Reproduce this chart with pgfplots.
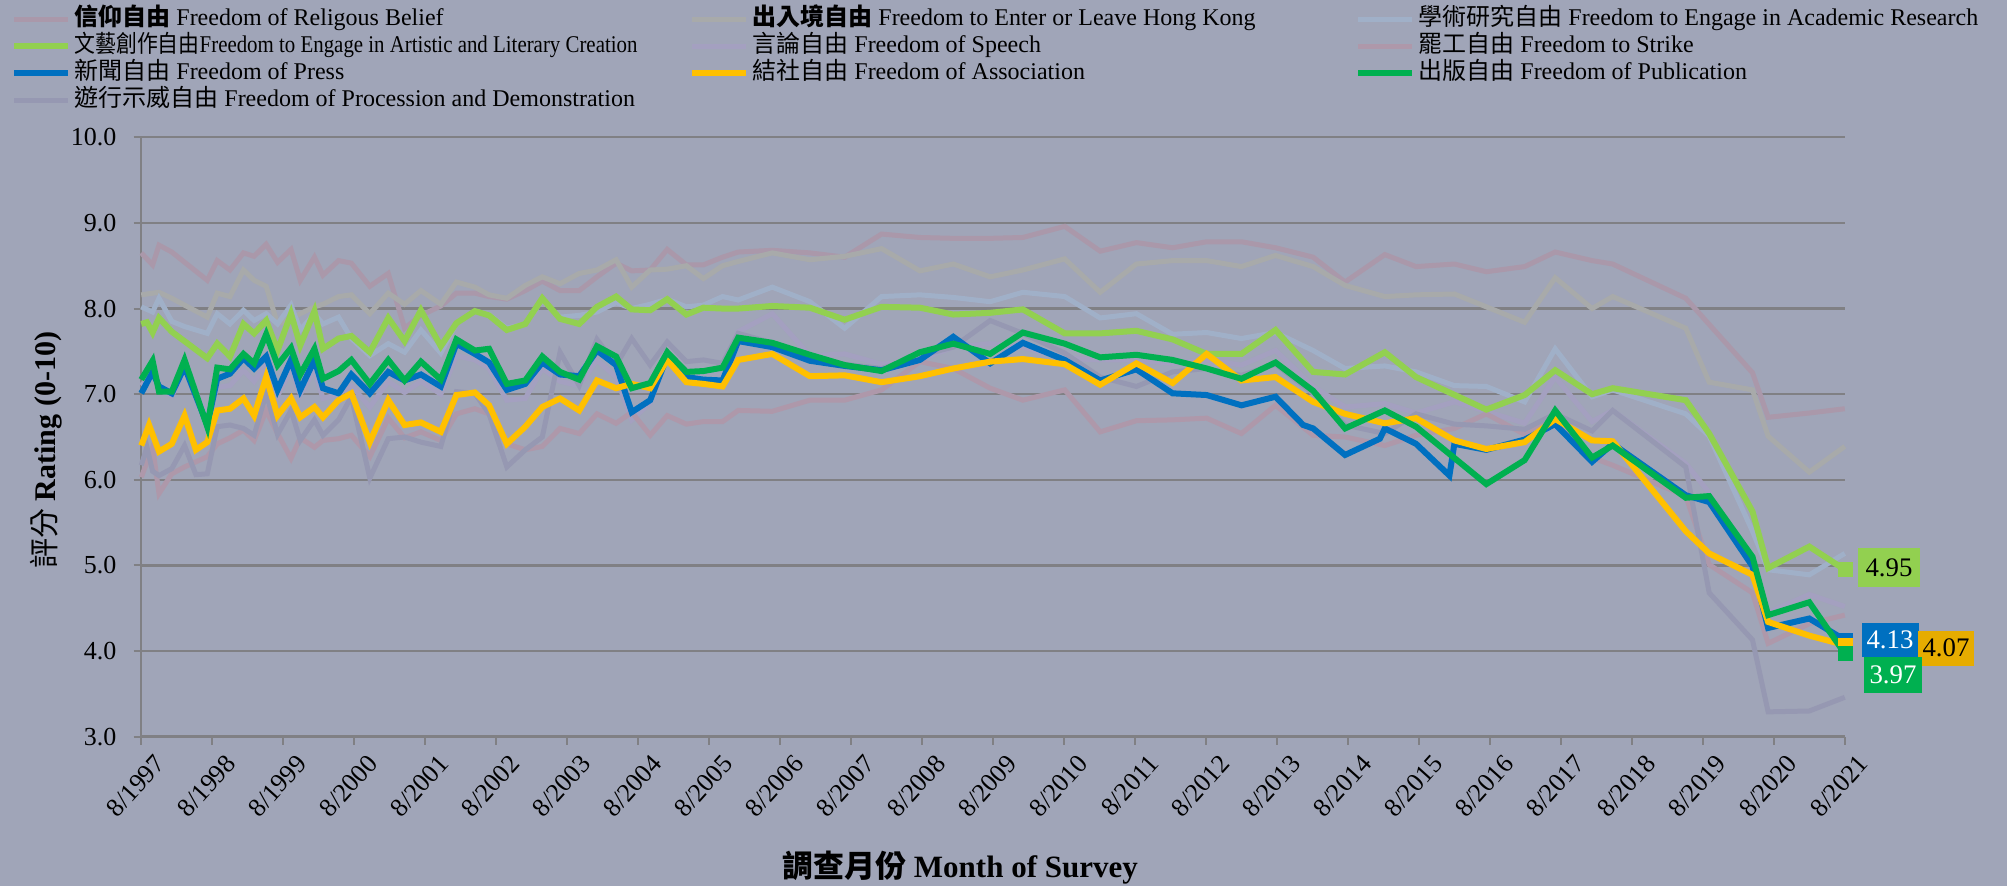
\documentclass[border=0pt]{standalone}
\usepackage{fontspec}
\setmainfont{Liberation Serif}
\newfontfamily\cjk{Noto Sans CJK TC}
\usepackage{pgfplots}
\pgfplotsset{compat=1.18}
\definecolor{bgc}{RGB}{160,165,184}
\definecolor{gridc}{RGB}{128,128,132}
\definecolor{creli}{RGB}{170,152,170}
\definecolor{center}{RGB}{168,170,170}
\definecolor{cacad}{RGB}{160,176,200}
\definecolor{cspeech}{RGB}{164,160,192}
\definecolor{cstrike}{RGB}{174,152,170}
\definecolor{cproc}{RGB}{150,152,178}
\definecolor{cart}{RGB}{146,208,80}
\definecolor{cpress}{RGB}{0,112,192}
\definecolor{cassoc}{RGB}{255,192,0}
\definecolor{cassocbox}{RGB}{230,172,0}
\definecolor{cpub}{RGB}{0,176,80}
\begin{document}
\begin{tikzpicture}[x=1pt,y=1pt]
\fill[bgc] (-70.75,-74.65) rectangle (932.75,368.35);
\begin{axis}[
  at={(0,0)}, anchor=south west,
  width=851.75pt, height=299.7pt, scale only axis,
  xmin=1997.5833, xmax=2021.5833, ymin=3, ymax=10,
  clip=false,
  axis x line*=bottom, axis y line*=left,
  axis line style={gridc, line width=1pt},
  ytick={3,4,5,6,7,8,9,10},
  ymajorgrids, grid style={gridc, line width=1.2pt},
  xtick={1997.5833,1998.5833,1999.5833,2000.5833,2001.5833,2002.5833,2003.5833,2004.5833,2005.5833,2006.5833,2007.5833,2008.5833,2009.5833,2010.5833,2011.5833,2012.5833,2013.5833,2014.5833,2015.5833,2016.5833,2017.5833,2018.5833,2019.5833,2020.5833,2021.5833},
  xticklabels={8/1997,8/1998,8/1999,8/2000,8/2001,8/2002,8/2003,8/2004,8/2005,8/2006,8/2007,8/2008,8/2009,8/2010,8/2011,8/2012,8/2013,8/2014,8/2015,8/2016,8/2017,8/2018,8/2019,8/2020,8/2021},
  tick style={gridc, line width=1pt},
  major tick length=4pt, tick align=outside,
  xticklabel style={rotate=48, anchor=north east, font=\fontsize{13}{13}\selectfont, inner sep=1pt, yshift=-6pt, xshift=2pt},
  yticklabel style={font=\fontsize{13}{13}\selectfont, xshift=-5pt},
  /pgf/number format/assume math mode=true,
  yticklabel={\pgfmathprintnumber[fixed,fixed zerofill,precision=1]{\tick}},
  xlabel={{\cjk\bfseries 調查月份} \textbf{Month of Survey}},
  xlabel style={font=\fontsize{15.5}{15.5}\selectfont, inner sep=0pt, at={(axis description cs:0.4805,-0.219)}, anchor=center},
  ylabel={{\cjk 評分} \textbf{Rating (0-10)}},
  ylabel style={font=\fontsize{15}{15}\selectfont, inner sep=0pt, at={(axis description cs:-0.0557,0.478)}, anchor=center},
  legend columns=3,
  legend style={at={(axis description cs:-0.0766,1.22)}, anchor=north west, draw=none, fill=none,
    font=\fontsize{12}{12}\selectfont, inner sep=0pt,
    nodes={inner sep=0pt, text height=10pt, text depth=3.5pt},
    /tikz/every odd column/.append style={column sep=1.5pt},
    /tikz/every even column/.append style={column sep=5.5pt}},
  legend cell align=left,
  legend image code/.code={\draw[#1] (0pt,0pt) -- (27pt,0pt);},
]
\addlegendimage{creli, line width=2.5pt}
\addlegendentry{\makebox[302pt][l]{{\cjk\bfseries 信仰自由} Freedom of Religous Belief}}
\addlegendimage{center, line width=2.5pt}
\addlegendentry{\makebox[296pt][l]{{\cjk\bfseries 出入境自由} Freedom to Enter or Leave Hong Kong}}
\addlegendimage{cacad, line width=2.5pt}
\addlegendentry{{\cjk 學術研究自由} Freedom to Engage in Academic Research}
\addlegendimage{cart, line width=3pt}
\addlegendentry{\makebox[302pt][l]{\scalebox{0.87}[1]{{\cjk 文藝創作自由}Freedom to Engage in Artistic and Literary Creation}}}
\addlegendimage{cspeech, line width=2.5pt}
\addlegendentry{\makebox[296pt][l]{{\cjk 言論自由} Freedom of Speech}}
\addlegendimage{cstrike, line width=2.5pt}
\addlegendentry{{\cjk 罷工自由} Freedom to Strike}
\addlegendimage{cpress, line width=3pt}
\addlegendentry{\makebox[302pt][l]{{\cjk 新聞自由} Freedom of Press}}
\addlegendimage{cassoc, line width=3pt}
\addlegendentry{\makebox[296pt][l]{{\cjk 結社自由} Freedom of Association}}
\addlegendimage{cpub, line width=3pt}
\addlegendentry{{\cjk 出版自由} Freedom of Publication}
\addlegendimage{cproc, line width=2.5pt}
\addlegendentry{\makebox[302pt][l]{{\cjk 遊行示威自由} Freedom of Procession and Demonstration}}

% Religious belief
\addplot[creli, line width=2.5pt, forget plot] coordinates {
(1997.58,8.65)(1997.74,8.51)(1997.83,8.74)(1998.01,8.66)(1998.51,8.33)(1998.65,8.56)(1998.83,8.45)(1999.02,8.65)(1999.17,8.61)(1999.34,8.75)(1999.50,8.54)(1999.69,8.69)(1999.82,8.33)(2000.02,8.60)(2000.14,8.39)(2000.36,8.56)(2000.54,8.53)(2000.80,8.26)(2001.06,8.41)(2001.29,7.77)(2001.52,7.92)(2001.80,8.03)(2002.02,8.18)(2002.28,8.18)(2002.48,8.14)(2002.73,8.11)(2002.99,8.21)(2003.23,8.32)(2003.48,8.21)(2003.75,8.21)(2004.00,8.37)(2004.27,8.53)(2004.49,8.44)(2004.75,8.45)(2004.99,8.69)(2005.26,8.51)(2005.50,8.51)(2005.77,8.60)(2005.99,8.66)(2006.47,8.68)(2007.00,8.65)(2007.49,8.60)(2008.01,8.87)(2008.55,8.83)(2009.02,8.82)(2009.54,8.82)(2010.00,8.83)(2010.59,8.96)(2011.09,8.67)(2011.60,8.77)(2012.11,8.71)(2012.59,8.78)(2013.08,8.78)(2013.56,8.71)(2014.09,8.60)(2014.54,8.31)(2015.10,8.63)(2015.54,8.49)(2016.08,8.52)(2016.53,8.43)(2017.07,8.49)(2017.50,8.66)(2018.02,8.56)(2018.31,8.52)(2019.34,8.12)(2020.28,7.25)(2020.50,6.73)(2021.08,6.78)(2021.58,6.83)};
% Enter or leave HK
\addplot[center, line width=2.5pt, forget plot] coordinates {
(1997.58,8.16)(1997.83,8.19)(1998.01,8.12)(1998.19,8.04)(1998.51,7.90)(1998.65,8.18)(1998.83,8.14)(1999.02,8.45)(1999.17,8.33)(1999.34,8.26)(1999.50,7.82)(1999.69,7.88)(1999.82,7.94)(2000.02,8.02)(2000.14,8.05)(2000.36,8.14)(2000.54,8.16)(2000.80,7.94)(2001.06,8.18)(2001.29,8.05)(2001.52,8.21)(2001.80,8.05)(2002.02,8.31)(2002.28,8.25)(2002.48,8.16)(2002.73,8.12)(2002.99,8.27)(2003.23,8.37)(2003.48,8.29)(2003.75,8.41)(2004.00,8.45)(2004.27,8.57)(2004.49,8.25)(2004.75,8.45)(2004.99,8.46)(2005.26,8.50)(2005.50,8.35)(2005.77,8.50)(2005.99,8.55)(2006.47,8.65)(2007.00,8.57)(2007.49,8.61)(2008.01,8.70)(2008.55,8.44)(2009.02,8.52)(2009.54,8.37)(2010.00,8.45)(2010.59,8.58)(2011.09,8.19)(2011.60,8.52)(2012.11,8.56)(2012.59,8.56)(2013.08,8.49)(2013.56,8.62)(2014.09,8.49)(2014.54,8.27)(2015.10,8.14)(2015.54,8.16)(2016.08,8.17)(2016.53,8.02)(2017.07,7.84)(2017.50,8.36)(2018.02,8.00)(2018.31,8.14)(2019.34,7.77)(2019.67,7.14)(2020.28,7.05)(2020.50,6.51)(2021.08,6.09)(2021.58,6.39)};
% Academic research
\addplot[cacad, line width=2.5pt, forget plot] coordinates {
(1997.58,8.02)(1997.74,7.96)(1997.83,8.12)(1998.01,7.85)(1998.19,7.79)(1998.51,7.71)(1998.65,7.94)(1998.83,7.82)(1999.02,7.98)(1999.17,7.86)(1999.34,7.94)(1999.50,7.82)(1999.69,8.04)(1999.82,7.75)(2000.02,7.94)(2000.14,7.82)(2000.36,7.90)(2000.54,7.65)(2000.80,7.45)(2001.06,7.59)(2001.29,7.49)(2001.52,7.75)(2001.80,7.48)(2002.02,7.83)(2002.28,7.97)(2002.48,7.93)(2002.73,7.77)(2002.99,7.82)(2003.23,8.10)(2003.48,7.90)(2003.75,7.92)(2004.00,7.96)(2004.27,8.07)(2004.49,8.00)(2004.75,8.05)(2004.99,8.11)(2005.26,8.02)(2005.50,8.04)(2005.77,8.14)(2005.99,8.10)(2006.47,8.25)(2007.00,8.08)(2007.49,7.77)(2008.01,8.14)(2008.55,8.16)(2009.02,8.13)(2009.54,8.08)(2010.00,8.19)(2010.59,8.14)(2011.09,7.89)(2011.60,7.94)(2012.11,7.70)(2012.59,7.72)(2013.08,7.65)(2013.56,7.72)(2014.09,7.51)(2014.54,7.30)(2015.10,7.33)(2015.54,7.26)(2016.08,7.10)(2016.53,7.09)(2017.07,6.91)(2017.50,7.53)(2018.02,6.97)(2018.31,7.05)(2019.34,6.77)(2019.67,6.51)(2020.28,5.40)(2020.50,4.95)(2021.08,4.89)(2021.58,5.14)};
% Speech
\addplot[cspeech, line width=2.5pt, forget plot] coordinates {
(1997.58,7.10)(1997.74,7.25)(1997.83,7.05)(1998.01,6.98)(1998.19,7.28)(1998.51,6.75)(1998.65,7.08)(1998.83,7.10)(1999.02,7.28)(1999.17,7.15)(1999.34,7.35)(1999.50,6.98)(1999.69,7.30)(1999.82,7.00)(2000.02,7.28)(2000.14,6.95)(2000.36,7.00)(2000.54,7.10)(2000.80,6.85)(2001.06,7.15)(2001.29,7.02)(2001.52,7.15)(2001.80,7.00)(2002.02,7.45)(2002.28,7.40)(2002.48,7.30)(2002.73,6.93)(2002.99,6.95)(2003.23,7.30)(2003.48,7.15)(2003.75,7.10)(2004.00,7.40)(2004.27,7.20)(2004.49,6.70)(2004.75,6.90)(2004.99,7.45)(2005.26,7.20)(2005.50,7.25)(2005.77,7.30)(2005.99,7.73)(2006.47,7.94)(2007.00,7.45)(2007.49,7.47)(2008.01,7.35)(2008.55,7.40)(2009.02,7.55)(2009.54,7.59)(2010.00,7.55)(2010.59,7.42)(2011.09,7.40)(2011.60,7.40)(2012.11,7.36)(2012.59,7.40)(2013.08,7.34)(2013.56,7.51)(2014.09,7.09)(2014.54,6.85)(2015.10,6.89)(2015.54,6.78)(2016.08,6.91)(2016.53,6.80)(2017.07,6.66)(2017.50,7.20)(2018.02,6.68)(2018.31,6.81)(2019.34,6.19)(2019.67,5.85)(2020.28,5.00)(2020.50,4.45)(2021.08,4.66)(2021.58,4.52)};
% Strike
\addplot[cstrike, line width=2.5pt, forget plot] coordinates {
(1997.58,6.03)(1997.74,6.38)(1997.83,5.84)(1998.01,6.07)(1998.19,6.15)(1998.51,6.27)(1998.65,6.42)(1998.83,6.49)(1999.02,6.58)(1999.17,6.46)(1999.34,6.81)(1999.50,6.54)(1999.69,6.25)(1999.82,6.49)(2000.02,6.38)(2000.14,6.46)(2000.36,6.48)(2000.54,6.52)(2000.80,6.27)(2001.06,6.72)(2001.29,6.49)(2001.52,6.56)(2001.80,6.46)(2002.02,6.77)(2002.28,6.83)(2002.48,6.77)(2002.73,6.42)(2002.99,6.35)(2003.23,6.39)(2003.48,6.60)(2003.75,6.54)(2004.00,6.77)(2004.27,6.66)(2004.49,6.79)(2004.75,6.52)(2004.99,6.75)(2005.26,6.65)(2005.50,6.68)(2005.77,6.68)(2005.99,6.81)(2006.47,6.80)(2007.00,6.93)(2007.49,6.93)(2008.01,7.05)(2008.55,7.38)(2009.02,7.30)(2009.54,7.07)(2010.00,6.93)(2010.59,7.05)(2011.09,6.56)(2011.60,6.69)(2012.11,6.70)(2012.59,6.72)(2013.08,6.54)(2013.56,6.87)(2014.09,6.52)(2014.54,6.50)(2015.10,6.40)(2015.54,6.52)(2016.08,6.60)(2016.53,6.77)(2017.07,6.53)(2017.50,6.70)(2018.02,6.26)(2018.31,6.17)(2019.34,5.81)(2019.67,5.01)(2020.28,4.68)(2020.50,4.09)(2021.08,4.32)(2021.58,4.42)};
% Procession
\addplot[cproc, line width=2.5pt, forget plot] coordinates {
(1997.58,6.17)(1997.66,6.38)(1997.74,6.10)(1997.83,6.05)(1998.01,6.13)(1998.19,6.40)(1998.35,6.06)(1998.51,6.07)(1998.65,6.62)(1998.83,6.64)(1999.02,6.60)(1999.17,6.52)(1999.34,7.01)(1999.50,6.53)(1999.69,6.81)(1999.82,6.46)(2000.02,6.70)(2000.14,6.52)(2000.36,6.70)(2000.54,6.97)(2000.80,6.02)(2001.06,6.48)(2001.29,6.50)(2001.52,6.44)(2001.80,6.39)(2002.02,7.03)(2002.28,7.01)(2002.48,6.77)(2002.73,6.15)(2002.99,6.35)(2003.23,6.50)(2003.48,7.49)(2003.75,7.10)(2004.00,7.64)(2004.27,7.34)(2004.49,7.65)(2004.75,7.34)(2004.99,7.61)(2005.26,7.38)(2005.50,7.40)(2005.77,7.36)(2005.99,7.71)(2006.47,7.60)(2007.00,7.40)(2007.49,7.35)(2008.01,7.30)(2008.55,7.45)(2009.02,7.55)(2009.54,7.86)(2010.00,7.71)(2010.59,7.48)(2011.09,7.20)(2011.60,7.09)(2012.11,7.26)(2012.59,7.30)(2013.08,7.22)(2013.56,7.35)(2014.09,7.01)(2014.54,6.64)(2015.10,6.54)(2015.54,6.77)(2016.08,6.65)(2016.53,6.63)(2017.07,6.59)(2017.50,6.77)(2018.02,6.57)(2018.31,6.81)(2019.34,6.15)(2019.67,4.68)(2020.28,4.13)(2020.50,3.29)(2021.08,3.30)(2021.58,3.46)};
% Artistic
\addplot[cart, line width=3pt, forget plot] coordinates {
(1997.58,7.82)(1997.66,7.84)(1997.74,7.72)(1997.83,7.89)(1998.01,7.73)(1998.51,7.42)(1998.65,7.59)(1998.83,7.44)(1999.02,7.82)(1999.17,7.71)(1999.34,7.86)(1999.50,7.51)(1999.69,7.94)(1999.82,7.57)(2000.02,7.97)(2000.14,7.53)(2000.36,7.65)(2000.54,7.68)(2000.80,7.49)(2001.06,7.89)(2001.29,7.62)(2001.52,7.98)(2001.80,7.56)(2002.02,7.83)(2002.28,7.97)(2002.48,7.92)(2002.73,7.75)(2002.99,7.82)(2003.23,8.12)(2003.48,7.88)(2003.75,7.82)(2004.00,8.02)(2004.27,8.14)(2004.49,7.99)(2004.75,7.98)(2004.99,8.11)(2005.26,7.93)(2005.50,8.01)(2005.77,8.00)(2005.99,8.00)(2006.47,8.03)(2007.00,8.01)(2007.49,7.87)(2008.01,8.02)(2008.55,8.01)(2009.02,7.93)(2009.54,7.95)(2010.00,7.99)(2010.59,7.71)(2011.09,7.71)(2011.60,7.74)(2012.11,7.64)(2012.59,7.47)(2013.08,7.47)(2013.56,7.75)(2014.09,7.26)(2014.54,7.23)(2015.10,7.49)(2015.54,7.20)(2016.53,6.82)(2017.07,6.99)(2017.50,7.28)(2018.02,7.00)(2018.31,7.07)(2019.34,6.93)(2019.67,6.54)(2020.28,5.63)(2020.50,4.97)(2021.08,5.22)(2021.58,4.95)};
% Press
\addplot[cpress, line width=3pt, forget plot] coordinates {
(1997.58,7.01)(1997.74,7.26)(1997.83,7.09)(1998.01,7.01)(1998.19,7.32)(1998.51,6.64)(1998.65,7.18)(1998.83,7.24)(1999.02,7.42)(1999.17,7.30)(1999.34,7.44)(1999.50,7.05)(1999.69,7.40)(1999.82,7.05)(2000.02,7.40)(2000.14,7.07)(2000.36,7.01)(2000.54,7.23)(2000.80,7.01)(2001.06,7.26)(2001.29,7.16)(2001.52,7.23)(2001.80,7.09)(2002.02,7.59)(2002.28,7.47)(2002.48,7.37)(2002.73,7.05)(2002.99,7.12)(2003.23,7.37)(2003.48,7.23)(2003.75,7.21)(2004.00,7.51)(2004.27,7.34)(2004.49,6.79)(2004.75,6.93)(2004.99,7.44)(2005.26,7.20)(2005.50,7.17)(2005.77,7.16)(2005.99,7.62)(2006.47,7.55)(2007.00,7.39)(2007.49,7.33)(2008.01,7.28)(2008.55,7.40)(2009.02,7.67)(2009.54,7.36)(2010.00,7.60)(2010.59,7.40)(2011.09,7.16)(2011.60,7.29)(2012.11,7.01)(2012.59,6.99)(2013.08,6.87)(2013.56,6.97)(2013.95,6.64)(2014.09,6.60)(2014.54,6.29)(2015.03,6.48)(2015.10,6.60)(2015.54,6.42)(2016.01,6.05)(2016.08,6.42)(2016.53,6.35)(2017.07,6.47)(2017.50,6.65)(2018.02,6.21)(2018.31,6.42)(2019.34,5.82)(2019.67,5.74)(2020.28,4.99)(2020.50,4.27)(2021.08,4.38)(2021.58,4.13)};
% Association
\addplot[cassoc, line width=3pt, forget plot] coordinates {
(1997.58,6.40)(1997.69,6.64)(1997.83,6.33)(1998.01,6.42)(1998.19,6.75)(1998.35,6.35)(1998.51,6.44)(1998.65,6.81)(1998.83,6.83)(1999.02,6.95)(1999.17,6.75)(1999.34,7.20)(1999.50,6.75)(1999.69,6.95)(1999.82,6.73)(2000.02,6.85)(2000.14,6.73)(2000.36,6.93)(2000.54,7.01)(2000.80,6.44)(2001.06,6.93)(2001.29,6.64)(2001.52,6.67)(2001.80,6.56)(2002.02,6.99)(2002.28,7.02)(2002.48,6.87)(2002.73,6.42)(2002.99,6.62)(2003.23,6.85)(2003.48,6.95)(2003.75,6.81)(2004.00,7.16)(2004.27,7.07)(2004.49,7.12)(2004.75,7.07)(2004.99,7.40)(2005.26,7.14)(2005.50,7.12)(2005.77,7.09)(2005.99,7.40)(2006.47,7.47)(2007.00,7.21)(2007.49,7.22)(2008.01,7.14)(2008.55,7.21)(2009.02,7.30)(2009.54,7.38)(2010.00,7.41)(2010.59,7.35)(2011.09,7.11)(2011.60,7.36)(2012.11,7.13)(2012.59,7.47)(2013.08,7.16)(2013.56,7.20)(2014.09,6.91)(2014.54,6.77)(2015.10,6.66)(2015.54,6.72)(2016.08,6.46)(2016.53,6.36)(2017.07,6.44)(2017.50,6.71)(2018.02,6.46)(2018.31,6.45)(2019.34,5.40)(2019.67,5.14)(2020.28,4.89)(2020.50,4.34)(2021.08,4.18)(2021.58,4.07)};
% Publication
\addplot[cpub, line width=3pt, forget plot] coordinates {
(1997.58,7.17)(1997.74,7.39)(1997.83,7.03)(1998.01,7.03)(1998.19,7.40)(1998.51,6.62)(1998.65,7.31)(1998.83,7.29)(1999.02,7.47)(1999.17,7.36)(1999.34,7.70)(1999.50,7.34)(1999.69,7.54)(1999.82,7.23)(2000.02,7.53)(2000.14,7.18)(2000.36,7.27)(2000.54,7.40)(2000.80,7.12)(2001.06,7.40)(2001.29,7.16)(2001.52,7.38)(2001.80,7.17)(2002.02,7.64)(2002.28,7.51)(2002.48,7.53)(2002.73,7.12)(2002.99,7.16)(2003.23,7.44)(2003.48,7.26)(2003.75,7.17)(2004.00,7.56)(2004.27,7.44)(2004.49,7.07)(2004.75,7.13)(2004.99,7.49)(2005.26,7.26)(2005.50,7.27)(2005.77,7.31)(2005.99,7.66)(2006.47,7.60)(2007.00,7.46)(2007.49,7.34)(2008.01,7.27)(2008.55,7.49)(2009.02,7.59)(2009.54,7.47)(2010.00,7.72)(2010.59,7.59)(2011.09,7.43)(2011.60,7.46)(2012.11,7.40)(2012.59,7.30)(2013.08,7.18)(2013.56,7.37)(2014.09,7.04)(2014.54,6.60)(2015.10,6.81)(2015.54,6.62)(2016.53,5.95)(2017.07,6.23)(2017.50,6.81)(2018.02,6.26)(2018.31,6.40)(2019.34,5.79)(2019.67,5.81)(2020.28,5.10)(2020.50,4.42)(2021.08,4.57)(2021.58,3.97)};
% end markers
\addplot[cart, only marks, mark=square*, mark size=3.5pt, forget plot] coordinates {(2021.5833,4.95)};
\addplot[cpress, only marks, mark=square*, mark size=3.5pt, forget plot] coordinates {(2021.5833,4.13)};
\addplot[cassoc, only marks, mark=square*, mark size=3.5pt, forget plot] coordinates {(2021.5833,4.07)};
\addplot[cpub, only marks, mark=square*, mark size=3.5pt, forget plot] coordinates {(2021.5833,3.97)};
\node[fill=cart, text=black, inner sep=0pt, minimum width=31pt, minimum height=19.5pt, font=\fontsize{13.4}{13.4}\selectfont] at (axis cs:2021.5833,4.95) [xshift=22pt, yshift=1pt] {4.95};
\node[fill=cpress, text=white, inner sep=0pt, minimum width=28.5pt, minimum height=17pt, font=\fontsize{13.4}{13.4}\selectfont] at (axis cs:2021.5833,4.13) [xshift=22.5pt] {4.13};
\node[fill=cassocbox, text=black, inner sep=0pt, minimum width=28pt, minimum height=17.5pt, font=\fontsize{13.4}{13.4}\selectfont] at (axis cs:2021.5833,4.07) [xshift=50.5pt, yshift=-1.5pt] {4.07};
\node[fill=cpub, text=white, inner sep=0pt, minimum width=29pt, minimum height=18pt, font=\fontsize{13.4}{13.4}\selectfont] at (axis cs:2021.5833,3.97) [xshift=24pt, yshift=-10.5pt] {3.97};
\end{axis}
\end{tikzpicture}
\end{document}
